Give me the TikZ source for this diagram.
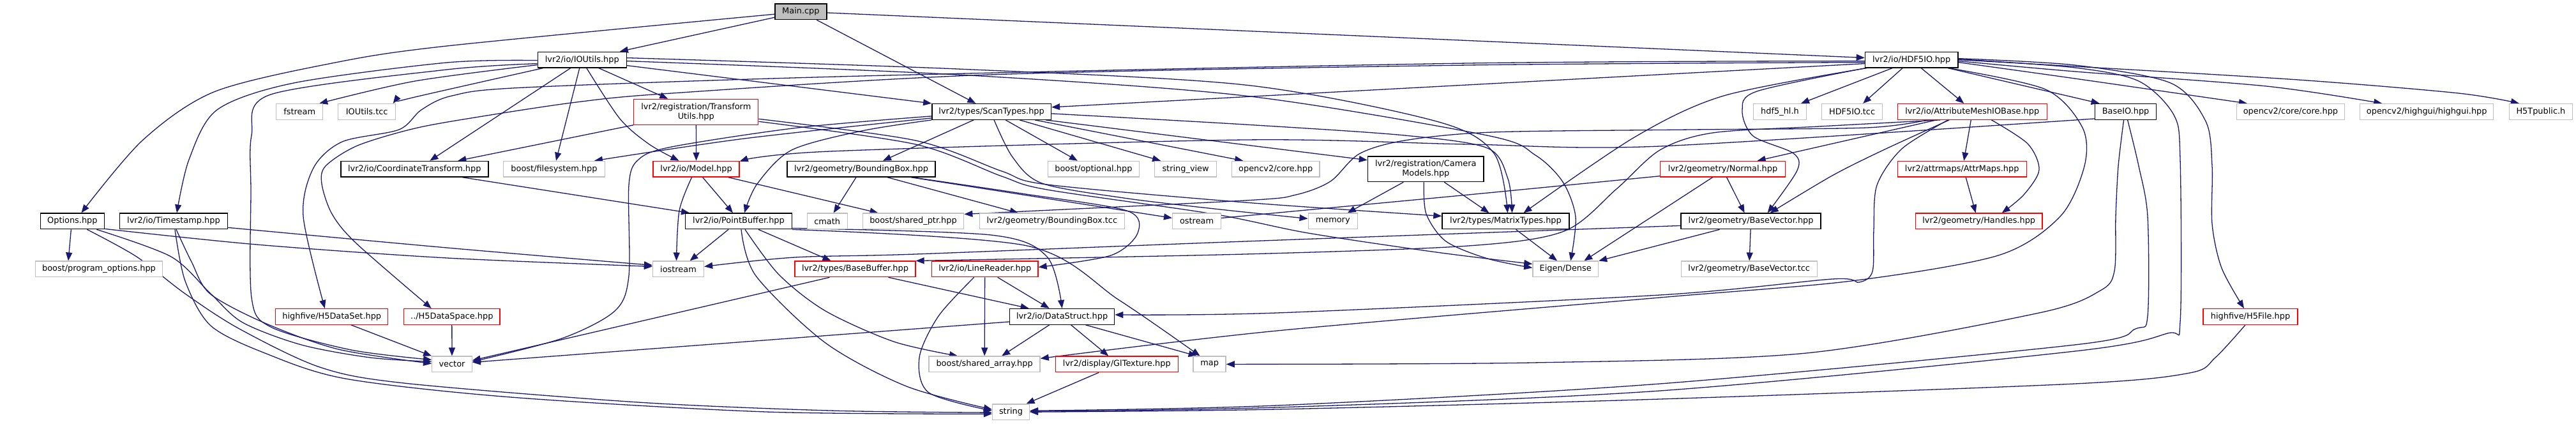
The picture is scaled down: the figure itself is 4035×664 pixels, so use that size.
\documentclass[tikz,border=0pt]{standalone}
\usepackage{fontspec}
\setmainfont{DejaVu Sans}
\usetikzlibrary{arrows.meta}
\pgfdeclarelayer{bg}
\pgfsetlayers{bg,main}
\definecolor{edgec}{HTML}{191970}
\definecolor{gbord}{HTML}{BFBFBF}
\definecolor{rbord}{HTML}{FF0000}
\newcommand\nfont{\fontsize{12.9}{14.8}\selectfont}
\begin{document}
\begin{tikzpicture}[x=1pt,y=-1pt,
 bx/.style={draw, rectangle, inner sep=0pt, minimum height=24.6pt, font=\nfont, align=center, fill=white},
 bk/.style={bx, draw=black, line width=1.4pt},
 gr/.style={bx, draw=gbord, line width=1.3pt},
 rd/.style={bx, draw=rbord, line width=1.3pt},
 mn/.style={bx, draw=black, line width=1.4pt, fill=gbord},
 ln/.style={draw=edgec, line width=1.3pt, -{Triangle[length=13pt,width=10pt]}},
]
\useasboundingbox (0,0) rectangle (4035,664);
% row 1
\node[mn, minimum width=81pt] (main) at (1254.4,18.2) {Main.cpp};
% row 2
\node[bk, minimum width=139pt] (ioutils) at (911.8,93.6) {lvr2/io/IOUtils.hpp};
\node[bk, minimum width=145.5pt] (hdf5io) at (2994.2,93.6) {lvr2/io/HDF5IO.hpp};
% row 3
\node[gr, minimum width=73pt] (fstream) at (469.2,174.9) {fstream};
\node[gr, minimum width=90pt] (ioutilstcc) at (574.7,174.9) {IOUtils.tcc};
\node[rd, minimum width=195pt, minimum height=39.8pt] (transformutils) at (1090.3,175.3) {lvr2/registration/Transform\\Utils.hpp};
\node[bk, minimum width=186.6pt] (scantypes) at (1553.1,174.9) {lvr2/types/ScanTypes.hpp};
\node[gr, minimum width=83pt] (hdf5hl) at (2788,174.9) {hdf5\_hl.h};
\node[gr, minimum width=95pt] (hdf5iotcc) at (2901.1,174.9) {HDF5IO.tcc};
\node[rd, minimum width=234pt] (attrmesh) at (3089.3,174.9) {lvr2/io/AttributeMeshIOBase.hpp};
\node[bk, minimum width=96pt] (baseio) at (3329.6,174.9) {BaseIO.hpp};
\node[gr, minimum width=169pt] (cvcore) at (3587.9,174.9) {opencv2/core/core.hpp};
\node[gr, minimum width=209pt] (highgui) at (3801.2,174.9) {opencv2/highgui/highgui.hpp};
\node[gr, minimum width=99pt] (h5tpublic) at (3979.9,174.9) {H5Tpublic.h};
% row 4
\node[bk, minimum width=231pt] (coordtrans) at (649.3,264.7) {lvr2/io/CoordinateTransform.hpp};
\node[gr, minimum width=158.5pt] (filesystem) at (868,264.7) {boost/filesystem.hpp};
\node[rd, minimum width=135pt] (model) at (1090.6,264.7) {lvr2/io/Model.hpp};
\node[bk, minimum width=232pt] (bbox) at (1349,264.7) {lvr2/geometry/BoundingBox.hpp};
\node[gr, minimum width=143pt] (optional) at (1712.9,264.7) {boost/optional.hpp};
\node[gr, minimum width=97pt] (stringview) at (1857.1,264.7) {string\_view};
\node[gr, minimum width=137.6pt] (cv2core) at (1998.2,264.7) {opencv2/core.hpp};
\node[bk, minimum width=181.7pt, minimum height=39.8pt] (cameramodels) at (2233.3,264.7) {lvr2/registration/Camera\\Models.hpp};
\node[rd, minimum width=195.6pt] (normal) at (2698.6,264.7) {lvr2/geometry/Normal.hpp};
\node[rd, minimum width=202pt] (attrmaps) at (3073.2,264.7) {lvr2/attrmaps/AttrMaps.hpp};
% row 5
\node[bk, minimum width=100pt] (options) at (113.4,346.4) {Options.hpp};
\node[bk, minimum width=169pt] (timestamp) at (272,346.4) {lvr2/io/Timestamp.hpp};
\node[bk, minimum width=167pt] (pointbuffer) at (1157,346.4) {lvr2/io/PointBuffer.hpp};
\node[gr, minimum width=63pt] (cmath) at (1295.7,346.4) {cmath};
\node[gr, minimum width=158.5pt] (sharedptr) at (1430.5,346.4) {boost/shared\_ptr.hpp};
\node[gr, minimum width=227pt] (bboxtcc) at (1647.8,346.4) {lvr2/geometry/BoundingBox.tcc};
\node[gr, minimum width=76pt] (ostream) at (1874.6,346.4) {ostream};
\node[gr, minimum width=77pt] (memory) at (2087.7,346.4) {memory};
\node[bk, minimum width=199pt] (matrixtypes) at (2358.5,346.4) {lvr2/types/MatrixTypes.hpp};
\node[bk, minimum width=219pt] (basevector) at (2742.6,346.4) {lvr2/geometry/BaseVector.hpp};
\node[rd, minimum width=198.6pt] (handles) at (3099.7,346.4) {lvr2/geometry/Handles.hpp};
% row 6
\node[gr, minimum width=199.5pt] (progopts) at (155,421.4) {boost/program\_options.hpp};
\node[gr, minimum width=80pt] (iostream) at (1062.5,421.4) {iostream};
\node[rd, minimum width=189pt] (basebuffer) at (1339.5,421.4) {lvr2/types/BaseBuffer.hpp};
\node[rd, minimum width=166.5pt] (linereader) at (1542.7,421.4) {lvr2/io/LineReader.hpp};
\node[gr, minimum width=102.7pt] (eigen) at (2452.2,421.4) {Eigen/Dense};
\node[gr, minimum width=213pt] (basevectortcc) at (2739.7,421.4) {lvr2/geometry/BaseVector.tcc};
% row 7
\node[rd, minimum width=176pt] (h5dataset) at (519.8,495.9) {highfive/H5DataSet.hpp};
\node[rd, minimum width=150.5pt] (h5dataspace) at (707.8,495.9) {../H5DataSpace.hpp};
\node[bk, minimum width=164pt] (datastruct) at (1663.6,495.9) {lvr2/io/DataStruct.hpp};
\node[rd, minimum width=148pt] (h5file) at (3525,495.9) {highfive/H5File.hpp};
% row 8
\node[gr, minimum width=62.5pt] (vector) at (708,570.4) {vector};
\node[gr, minimum width=174pt] (sharedarray) at (1542.1,570.4) {boost/shared\_array.hpp};
\node[rd, minimum width=192pt] (gltexture) at (1749.3,570.4) {lvr2/display/GlTexture.hpp};
\node[gr, minimum width=51pt] (map) at (1894.6,570.4) {map};
% row 9
\node[gr, minimum width=58pt] (string) at (1583.5,645.2) {string};

\begin{pgfonlayer}{bg}
% Main.cpp
\draw[ln] (main) -- (ioutils);
\draw[ln] plot[smooth] coordinates {([yshift=-4pt]main.west) (700,72) (520,99) (335,144) (223,220) ([xshift=14pt]options.north)};
\draw[ln] (main) -- (hdf5io);
\draw[ln] (main) -- (scantypes);
% IOUtils
\draw[ln] plot[smooth] coordinates {([yshift=-8pt]ioutils.west) (650,127) ([xshift=31pt]fstream.north)};
\draw[ln] plot[smooth] coordinates {([xshift=-61pt]ioutils.south) (650,152) ([xshift=41pt]ioutilstcc.north)};
\draw[ln] plot[smooth] coordinates {([yshift=-1pt]ioutils.west) (700,98) (460,130) (340,172) (296,250) ([xshift=5pt]timestamp.north)};
\draw[ln] plot[smooth] coordinates {([yshift=-6pt]ioutils.west) (700,109) (424,148) (394,212) (393,300) (394,466) (424,512) (550,548) ([yshift=7pt]vector.west)};
\draw[ln] ([xshift=-18pt]ioutils.south) -- ([xshift=24pt]coordtrans.north);
\draw[ln] ([xshift=-4pt]ioutils.south) -- ([xshift=3pt]filesystem.north);
\draw[ln] plot[smooth] coordinates {([xshift=7pt]ioutils.south) (971,186) (1017,226) ([xshift=-27pt]model.north)};
\draw[ln] ([xshift=26pt]ioutils.south) -- ([xshift=-44pt]transformutils.north);
\draw[ln] ([yshift=-9pt]ioutils.east) -- (scantypes.north west);
\draw[ln] plot[smooth] coordinates {([yshift=3pt]ioutils.east) (1500,108) (1950,133) (2250,190) (2340,240) ([xshift=3pt]matrixtypes.north)};
\draw[ln] plot[smooth] coordinates {([yshift=-2pt]ioutils.east) (1500,117) (1950,150) (2329,212) (2405,243) (2448,285) (2468,340) ([xshift=8pt]eigen.north)};
% HDF5IO
\draw[ln] ([yshift=-6pt]hdf5io.west) -- ([yshift=7pt]scantypes.east);
\draw[ln] plot[smooth] coordinates {([yshift=-2pt]hdf5io.west) (2300,99) (1350,119) (822,137) (708,150) (660,172) (625,203) (536,222) (491,263) (475,339) ([xshift=-11pt]h5dataset.north)};
\draw[ln] plot[smooth] coordinates {([yshift=-4pt]hdf5io.west) (2300,102) (1550,117) (1052,146) (903,160) (750,183) (650,201) (560,228) (510,260) (504,288) (520,335) (558,381) ([xshift=-32pt]h5dataspace.north)};
\draw[ln] plot[smooth] coordinates {([xshift=-70pt]hdf5io.south) (2700,150) (2560,215) ([xshift=28pt]matrixtypes.north)};
\draw[ln] plot[smooth] coordinates {([xshift=-72pt]hdf5io.south) (2752,143) (2729,173) (2746,213) (2809,240) (2815,267) ([xshift=26pt]basevector.north)};
\draw[ln] ([xshift=-30pt]hdf5io.south) -- ([xshift=33pt]hdf5hl.north);
\draw[ln] ([xshift=-14pt]hdf5io.south) -- ([xshift=17pt]hdf5iotcc.north);
\draw[ln] ([xshift=15pt]hdf5io.south) -- ([xshift=-13pt]attrmesh.north);
\draw[ln] ([xshift=57pt]hdf5io.south) -- ([xshift=-41pt]baseio.north);
\draw[ln] plot[smooth] coordinates {([yshift=-4pt]hdf5io.east) (3250,123) ([xshift=-68pt]cvcore.north)};
\draw[ln] plot[smooth] coordinates {([yshift=-2pt]hdf5io.east) (3250,112) (3550,135) ([xshift=-70pt]highgui.north)};
\draw[ln] plot[smooth] coordinates {(hdf5io.east) (3250,104) (3600,125) (3851,146) ([xshift=-34pt]h5tpublic.north)};
\draw[ln] plot[smooth] coordinates {([yshift=2pt]hdf5io.east) (3250,102) (3400,130) (3455,190) (3465,260) (3465,351) (3480,420) ([xshift=-10pt]h5file.north)};
\draw[ln] plot[smooth] coordinates {([yshift=1pt]hdf5io.east) (3250,106) (3350,127) (3405,180) (3415,250) (3415,504) (3395,522) (3250,550) (2600,612) (2000,638) ([yshift=1pt]string.east)};
\draw[ln] plot[smooth] coordinates {([xshift=58pt]hdf5io.south) (3204,140) (3262,200) (3265,260) (3227,339) (3130,400) (2900,440) (2600,466) (2000,518) ([yshift=9pt]sharedarray.east)};
% ScanTypes
\draw[ln] ([xshift=-28pt]scantypes.south) -- ([xshift=34pt]bbox.north);
\draw[ln] ([xshift=22pt]scantypes.south) -- ([xshift=-25pt]optional.north);
\draw[ln] ([xshift=44pt]scantypes.south) -- ([xshift=-39pt]stringview.north);
\draw[ln] ([xshift=68pt]scantypes.south) -- ([xshift=-51pt]cv2core.north);
\draw[ln] ([xshift=85pt]scantypes.south) -- ([yshift=14pt]cameramodels.west);
\draw[ln] plot[smooth] coordinates {([xshift=4pt]scantypes.south) (1586,246) (1632,287) (1760,310) (1902,327) ([yshift=4pt]memory.west)};
\draw[ln] plot[smooth] coordinates {([yshift=-3pt]scantypes.east) (1950,195) (2200,212) (2330,232) (2362,280) ([xshift=10pt]matrixtypes.north)};
\draw[ln] plot[smooth] coordinates {([yshift=-10pt]scantypes.west) (1166,217) ([xshift=63pt]filesystem.north)};
\draw[ln] plot[smooth] coordinates {(scantypes.south west) (1350,205) (1240,235) (1186,288) ([xshift=9pt]pointbuffer.north)};
\draw[ln] plot[smooth] coordinates {([yshift=-7pt]scantypes.west) (1250,200) (1052,230) (1000,250) (985,290) (985,432) (963,487) (880,530) ([yshift=4pt]vector.east)};
% TransformUtils
\draw[ln] (transformutils) -- (model);
\draw[ln] (transformutils.south west) -- ([xshift=68pt]coordtrans.north);
\draw[ln] plot[smooth] coordinates {([yshift=-11pt]transformutils.east) (1434,220) (1569,268) (1640,289) (1950,317) ([yshift=8pt]matrixtypes.west)};
\draw[ln] plot[smooth] coordinates {([yshift=-15pt]transformutils.east) (1434,226) (1569,276) (1640,297) (1900,335) (2049,365) (2250,395) ([yshift=8pt]eigen.west)};
% Model
\draw[ln] plot[smooth] coordinates {([xshift=-7pt]model.south) (1064,330) ([xshift=-3pt]iostream.north)};
\draw[ln] ([xshift=10pt]model.south) -- ([xshift=-9pt]pointbuffer.north);
\draw[ln] ([xshift=50pt]model.south) -- ([xshift=-55pt]sharedptr.north);
% CoordinateTransform
\draw[ln] ([xshift=75pt]coordtrans.south) -- ([xshift=-77pt]pointbuffer.north);
% BoundingBox
\draw[ln] ([xshift=-8pt]bbox.south) -- ([xshift=10pt]cmath.north);
\draw[ln] ([xshift=41pt]bbox.south) -- ([xshift=-53pt]bboxtcc.north);
\draw[ln] ([xshift=78pt]bbox.south) -- ([yshift=5pt]ostream.west);
\draw[ln] plot[smooth] coordinates {([xshift=80pt]bbox.south) (1600,303) (1765,330) (1782,365) (1740,400) ([yshift=3pt]linereader.east)};
% PointBuffer
\draw[ln] ([xshift=-16pt]pointbuffer.south) -- ([xshift=18pt]iostream.north);
\draw[ln] ([xshift=31pt]pointbuffer.south) -- ([xshift=-38pt]basebuffer.north);
\draw[ln] plot[smooth] coordinates {([xshift=4pt]pointbuffer.south) (1184,432) (1293,537) (1420,605) ([yshift=4pt]string.west)};
\draw[ln] plot[smooth] coordinates {([xshift=10pt]pointbuffer.south) (1220,430) (1293,487) (1400,535) ([xshift=-42pt]sharedarray.north)};
\draw[ln] plot[smooth] coordinates {([yshift=-11pt]pointbuffer.east) (1552,368) (1640,402) (datastruct.north)};
\draw[ln] plot[smooth] coordinates {([yshift=-13pt]pointbuffer.east) (1609,385) (1753,470) ([xshift=-15pt]map.north)};
% BaseBuffer
\draw[ln] ([xshift=-40pt]basebuffer.south) -- ([yshift=6pt]vector.east);
\draw[ln] ([xshift=52pt]basebuffer.south) -- ([xshift=-52pt]datastruct.north);
% LineReader
\draw[ln] (linereader) -- (sharedarray);
\draw[ln] ([xshift=20pt]linereader.south) -- ([xshift=-20pt]datastruct.north);
\draw[ln] plot[smooth] coordinates {([xshift=-17pt]linereader.south) (1470,495) (1440,560) (1455,615) ([yshift=2pt]string.west)};
% DataStruct
\draw[ln] ([xshift=-20pt]datastruct.south) -- ([xshift=27pt]sharedarray.north);
\draw[ln] ([xshift=14pt]datastruct.south) -- ([xshift=-13pt]gltexture.north);
\draw[ln] ([xshift=37pt]datastruct.south) -- ([xshift=-20pt]map.north);
\draw[ln] ([yshift=-8pt]datastruct.west) -- ([yshift=3pt]vector.east);
% GlTexture
\draw[ln] ([xshift=-28pt]gltexture.south) -- ([xshift=24pt]string.north);
% CameraModels
\draw[ln] ([xshift=-35pt]cameramodels.south) -- ([xshift=23pt]memory.north);
\draw[ln] ([xshift=29pt]cameramodels.south) -- ([xshift=-26pt]matrixtypes.north);
\draw[ln] plot[smooth] coordinates {([xshift=-3pt]cameramodels.south) (2234,335) (2265,378) (2330,405) ([yshift=2pt]eigen.west)};
% MatrixTypes
\draw[ln] ([xshift=16pt]matrixtypes.south) -- ([xshift=-13pt]eigen.north);
% Normal
\draw[ln] ([xshift=6pt]normal.south) -- ([xshift=-10pt]basevector.north);
\draw[ln] ([xshift=-16pt]normal.south) -- ([xshift=29pt]eigen.north);
\draw[ln] plot[smooth] coordinates {([yshift=-11pt]normal.west) (2300,305) (1950,338) ([yshift=5pt]ostream.east)};
% BaseVector
\draw[ln] (basevector) -- (basevectortcc);
\draw[ln] ([xshift=-49pt]basevector.south) -- (eigen.north east);
\draw[ln] plot[smooth] coordinates {([yshift=-7pt]basevector.west) (1950,378) (1434,398) (1245,403) ([yshift=4pt]iostream.east)};
% AttributeMeshIOBase
\draw[ln] ([xshift=-2pt]attrmesh.south) -- ([xshift=3pt]attrmaps.north);
\draw[ln] plot[smooth] coordinates {([xshift=30pt]attrmesh.south) (3176,225) (3194,266) (3170,305) ([xshift=36pt]handles.north)};
\draw[ln] ([xshift=-56pt]attrmesh.south) -- ([xshift=54pt]normal.north);
\draw[ln] plot[smooth] coordinates {([xshift=-36pt]attrmesh.south) (2950,235) (2870,275) ([xshift=30pt]basevector.north)};
\draw[ln] plot[smooth] coordinates {([xshift=-70pt]attrmesh.south) (2924,200) (2650,203) (2338,207) (2200,220) (2129,241) (2084,284) (2030,305) (1950,314) ([yshift=11pt]sharedptr.east)};
\draw[ln] plot[smooth] coordinates {([xshift=-50pt]attrmesh.south) (2850,198) (2683,208) (2600,235) (2532,296) (2450,362) (2300,385) (1950,398) (basebuffer.north east)};
\draw[ln] plot[smooth] coordinates {([xshift=-38pt]attrmesh.south) (2979,233) (2940,290) (2935,360) (2933,425) (2912,442) (2870,437) (2600,462) (2000,490) ([yshift=3pt]datastruct.east)};
% AttrMaps
\draw[ln] ([xshift=6pt]attrmaps.south) -- ([xshift=-5pt]handles.north);
% BaseIO
\draw[ln] plot[smooth] coordinates {([yshift=-11pt]baseio.west) (2600,229) (2300,226) (1950,219) (1300,237) ([yshift=12pt]model.east)};
\draw[ln] plot[smooth] coordinates {([xshift=-3pt]baseio.south) (3318,260) (3314,339) (3312,424) (3290,455) (3194,490) (2829,553) (2400,568) (map.east)};
\draw[ln] plot[smooth] coordinates {([xshift=3pt]baseio.south) (3350,260) (3364,339) (3364,495) (3345,515) (3250,540) (2600,601) (2000,635) ([yshift=2pt]string.east)};
% H5File
\draw[ln] plot[smooth] coordinates {([xshift=-8pt]h5file.south) (3470,560) (3430,584) (3250,601) (2600,625) (2000,641) (string.east)};
% highfive
\draw[ln] ([xshift=30pt]h5dataset.south) -- (vector.north west);
\draw[ln] (h5dataspace) -- (vector);
% Options and Timestamp
\draw[ln] ([xshift=-2pt]options.south) -- ([xshift=-48pt]progopts.north);
\draw[ln] plot[smooth] coordinates {([yshift=-12pt]options.east) (402,383) (700,404) ([yshift=4pt]iostream.west)};
\draw[ln] plot[smooth] coordinates {([yshift=-10pt]timestamp.east) (700,388) ([yshift=6pt]iostream.west)};
\draw[ln] plot[smooth] coordinates {([xshift=38pt]options.south) (268,402) (330,460) (380,505) (472,540) (580,560) ([yshift=4pt]vector.west)};
\draw[ln] plot[smooth] coordinates {([xshift=23pt]options.south) (214,402) (290,460) (375,515) (501,575) (633,600) (1000,630) (1300,643) ([yshift=-1pt]string.west)};
\draw[ln] plot[smooth] coordinates {([xshift=4pt]timestamp.south) (300,410) (329,460) (415,506) (530,547) ([yshift=1pt]vector.west)};
\draw[ln] plot[smooth] coordinates {([xshift=2pt]timestamp.south) (290,440) (330,510) (415,553) (541,593) (800,622) (1200,645) ([yshift=-3pt]string.west)};
\end{pgfonlayer}
\end{tikzpicture}
\end{document}
